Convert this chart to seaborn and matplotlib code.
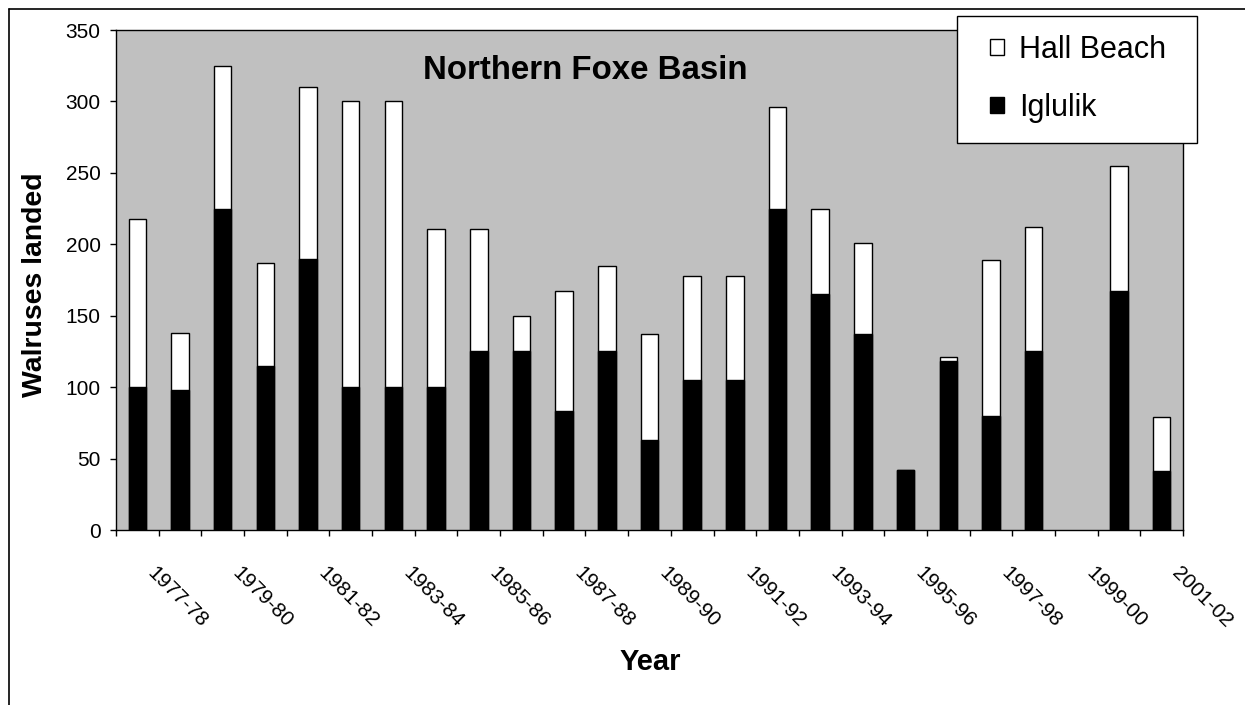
import numpy as np
import pandas as pd
import matplotlib
matplotlib.use("Agg")
import matplotlib.pyplot as plt
import matplotlib.transforms as mtransforms
from matplotlib.patches import Patch, Rectangle
from matplotlib.lines import Line2D
import seaborn as sns

# Walrus harvest by season, Northern Foxe Basin communities
seasons = ["1977-78", "1978-79", "1979-80", "1980-81", "1981-82", "1982-83",
           "1983-84", "1984-85", "1985-86", "1986-87", "1987-88", "1988-89",
           "1989-90", "1990-91", "1991-92", "1992-93", "1993-94", "1994-95",
           "1995-96", "1996-97", "1997-98", "1998-99", "1999-00", "2000-01",
           "2001-02"]
nan = float("nan")  # 1999-00: no harvest reported
iglulik = [100, 98, 225, 115, 190, 100, 100, 100, 125, 125, 83, 125, 63,
           105, 105, 225, 165, 137, 42, 118, 80, 125, nan, 167, 41]
hall_beach = [118, 40, 100, 72, 120, 200, 200, 111, 86, 25, 84, 60, 74,
              73, 73, 71, 60, 64, 0, 3, 109, 87, nan, 88, 38]
tick_labels = seasons[::2]
y_ticks = [0, 50, 100, 150, 200, 250, 300, 350]

sns.set_style("ticks")
plt.rcParams["font.family"] = ["Liberation Sans", "DejaVu Sans"]
plt.rcParams["text.color"] = "black"
plt.rcParams["xtick.color"] = "black"
plt.rcParams["ytick.color"] = "black"
plt.rcParams["axes.labelcolor"] = "black"

df = pd.DataFrame({"season": seasons, "Iglulik": iglulik, "Hall Beach": hall_beach})
df["total"] = df["Iglulik"] + df["Hall Beach"]

W, H = 1245, 705
fig = plt.figure(figsize=(W / 100, H / 100), dpi=100)
ax = fig.add_axes([116 / W, 1 - 530 / H, (1183 - 116) / W, 500 / H])
ax.set_facecolor("#c0c0c0")

# stacked bars: full height in white, Iglulik share in black on top of it
sns.barplot(data=df, x="season", y="total", order=seasons, color="white",
            edgecolor="black", linewidth=1.0, width=0.41, saturation=1,
            errorbar=None, ax=ax)
sns.barplot(data=df, x="season", y="Iglulik", order=seasons, color="black",
            edgecolor="black", linewidth=1.0, width=0.41, saturation=1,
            errorbar=None, ax=ax)

ax.set_xlim(-0.5, len(seasons) - 0.5)
ax.set_ylim(0, 350)
ax.set_yticks(y_ticks)
ax.set_xlabel("")
ax.set_ylabel("")

ax.set_xticks(range(0, len(seasons), 2))
ax.set_xticklabels(tick_labels, rotation=-45, ha="left", va="center",
                   rotation_mode="anchor", fontsize=15)
ax.set_xticks(np.arange(-0.5, len(seasons), 1), minor=True)
ax.tick_params(axis="x", which="major", length=0, pad=27)
ax.tick_params(axis="x", which="minor", length=4, width=1, color="black",
               direction="out")
ax.tick_params(axis="y", length=4, width=1, color="black", pad=7,
               labelsize=15, direction="out")
shift = mtransforms.ScaledTranslation(0.13, -0.03, fig.dpi_scale_trans)
for lab in ax.get_xticklabels():
    lab.set_transform(lab.get_transform() + shift)

for s in ax.spines.values():
    s.set_visible(True)
    s.set_color("black")
    s.set_linewidth(1.0)

# texts
fig.text(585 / W, 1 - 79 / H, "Northern Foxe Basin", ha="center", va="baseline",
         fontsize=23.8, fontweight="bold")
fig.text(35 / W, 1 - 284.5 / H, "Walruses landed", rotation=90, ha="center",
         va="center", fontsize=20.4, fontweight="bold")
fig.text(650 / W, 1 - 670 / H, "Year", ha="center", va="baseline",
         fontsize=21, fontweight="bold")

# chart-area border
fig.add_artist(Line2D([9 / W, 1.0], [1 - 9 / H, 1 - 9 / H],
                      transform=fig.transFigure, color="black", lw=1.2))
fig.add_artist(Line2D([9 / W, 9 / W], [0.0, 1 - 9 / H],
                      transform=fig.transFigure, color="black", lw=1.2))

# legend box
fig.add_artist(Rectangle((957 / W, 1 - 143 / H), 240 / W, 127 / H,
                         transform=fig.transFigure, facecolor="white",
                         edgecolor="black", lw=1.0, zorder=4))
handles = [Patch(facecolor="white", edgecolor="black", lw=1.0),
           Patch(facecolor="black", edgecolor="black", lw=1.0)]
fig.legend(handles, ["Hall Beach", "Iglulik"], loc="upper left",
           bbox_to_anchor=(990 / W, 1 - 35 / H), borderpad=0, borderaxespad=0,
           frameon=False, fontsize=22, handlelength=0.45, handleheight=0.45,
           handletextpad=0.5, labelspacing=0.91)

fig.savefig("out.png", dpi=100)
